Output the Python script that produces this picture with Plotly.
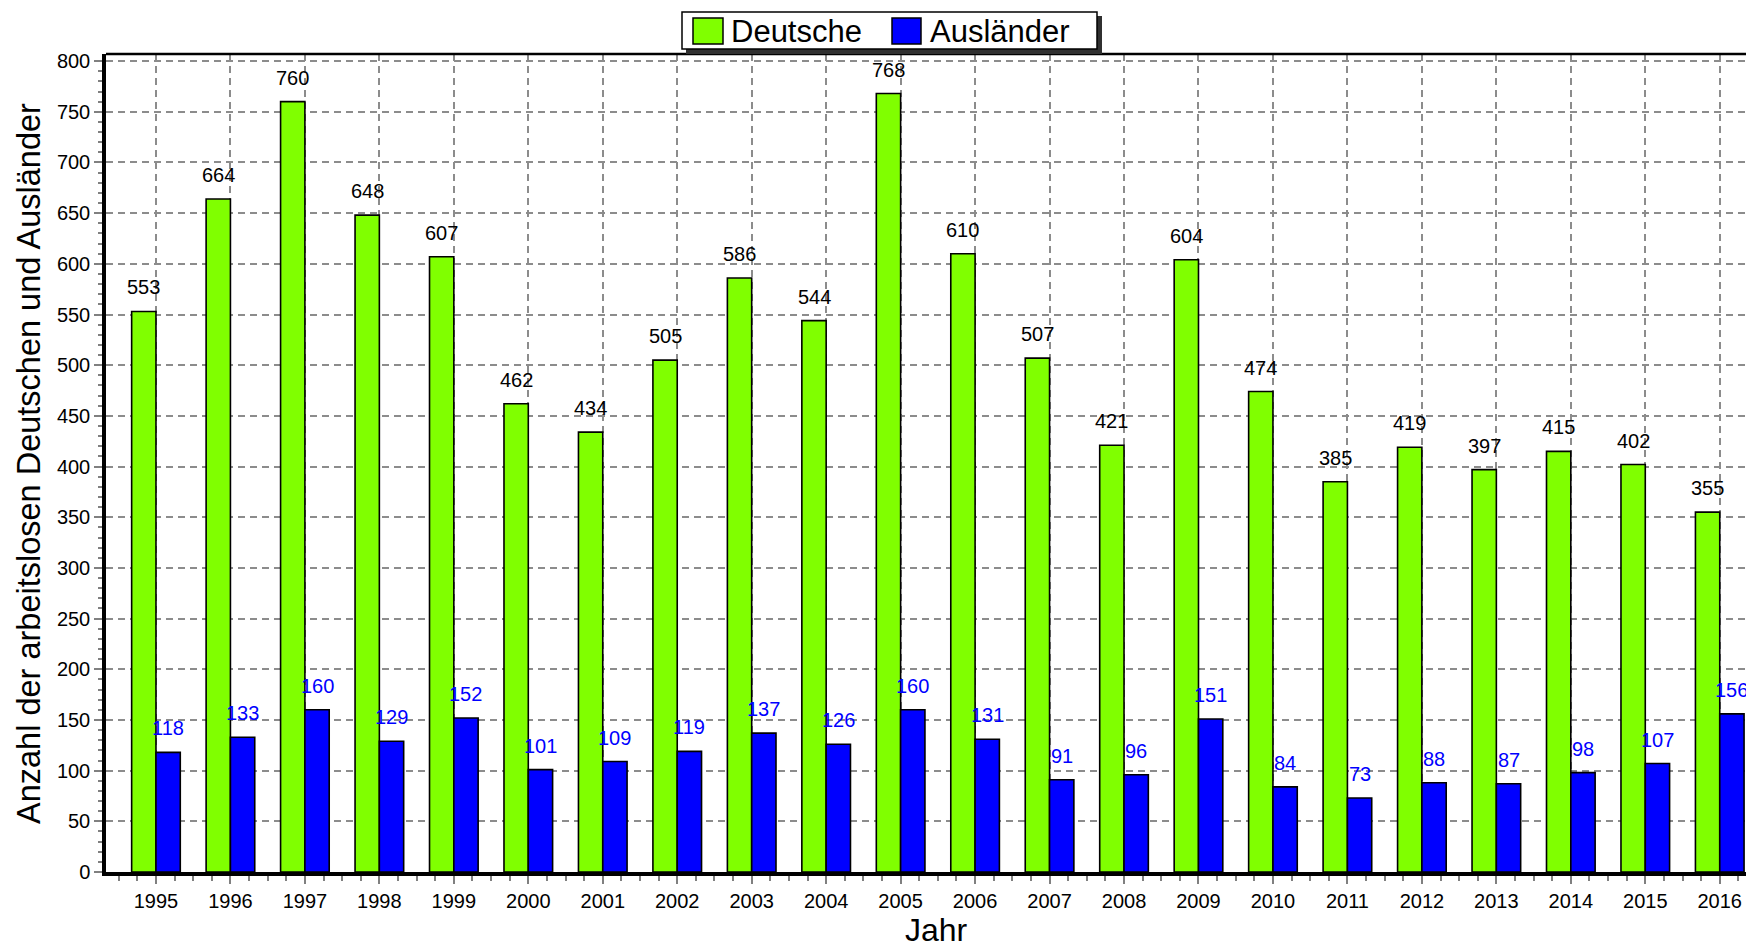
import plotly.graph_objects as go

years = list(range(1995, 2017))
deutsche = [553, 664, 760, 648, 607, 462, 434, 505, 586, 544, 768, 610, 507, 421, 604, 474, 385, 419, 397, 415, 402, 355]
auslaender = [118, 133, 160, 129, 152, 101, 109, 119, 137, 126, 160, 131, 91, 96, 151, 84, 73, 88, 87, 98, 107, 156]
series_names = ["Deutsche", "Ausländer"]
colors = ["#80FF00", "#0000FF"]
x_title = "Jahr"
y_title = "Anzahl der arbeitslosen Deutschen und Ausländer"

# page is offset by the default 8px body margin
OFF = 8
W, H = 1754 - OFF, 947 - OFF
PLOT_L, PLOT_T, PLOT_B = 106, 54, 872          # page coordinates of plot area
L, R, T, B = PLOT_L - OFF, 0, PLOT_T - OFF, 947 - PLOT_B
PW, PH = W - L - R, H - T - B

def px(x):
    return (x - OFF - L) / PW

def py(y):
    return (H - B - (y - OFF)) / PH

FONT = "Liberation Sans, Arial, sans-serif"
bargap = 0.347
half = (1 - bargap) / 4.0

fig = go.Figure()
for name, vals, col in zip(series_names, [deutsche, auslaender], colors):
    fig.add_trace(go.Bar(
        x=years, y=vals, name=name,
        marker=dict(color=col, line=dict(color="black", width=1.6)),
        showlegend=False,
    ))

annotations = []
for yr, d, a in zip(years, deutsche, auslaender):
    annotations.append(dict(x=yr - half, y=d, xref="x", yref="y", text=str(d), showarrow=False,
                            yshift=24, yanchor="middle", font=dict(family=FONT, size=20, color="black")))
    annotations.append(dict(x=yr + half, y=a, xref="x", yref="y", text=str(a), showarrow=False,
                            yshift=24, yanchor="middle", font=dict(family=FONT, size=20, color="#0000FF")))

# axis titles
annotations.append(dict(x=px(936), y=py(930), xref="paper", yref="paper", text=x_title, showarrow=False,
                        xanchor="center", yanchor="middle", font=dict(family=FONT, size=32, color="black")))
annotations.append(dict(x=px(29), y=py(464), xref="paper", yref="paper", text=y_title, showarrow=False,
                        textangle=-90, xanchor="center", yanchor="middle",
                        font=dict(family=FONT, size=32.5, color="black")))

# legend text
annotations.append(dict(x=px(729), y=py(31), xref="paper", yref="paper", text=series_names[0], showarrow=False,
                        xanchor="left", yanchor="middle", font=dict(family=FONT, size=31, color="black")))
annotations.append(dict(x=px(928), y=py(31), xref="paper", yref="paper", text=series_names[1], showarrow=False,
                        xanchor="left", yanchor="middle", font=dict(family=FONT, size=31, color="black")))

shapes = [
    # top border
    dict(type="line", xref="paper", yref="paper", x0=0, x1=1, y0=1, y1=1, line=dict(color="black", width=2.5)),
    # legend shadow
    dict(type="rect", xref="paper", yref="paper", x0=px(686), x1=px(1102), y0=py(16), y1=py(54),
         fillcolor="#303030", line=dict(width=0)),
    # legend box
    dict(type="rect", xref="paper", yref="paper", x0=px(682), x1=px(1097), y0=py(12), y1=py(49),
         fillcolor="white", line=dict(color="black", width=1.5)),
    dict(type="rect", xref="paper", yref="paper", x0=px(693), x1=px(723), y0=py(18), y1=py(44),
         fillcolor=colors[0], line=dict(color="black", width=1.5)),
    dict(type="rect", xref="paper", yref="paper", x0=px(892), x1=px(921), y0=py(18), y1=py(44),
         fillcolor=colors[1], line=dict(color="black", width=1.5)),
]

fig.update_layout(
    width=W, height=H,
    margin=dict(l=L, r=R, t=T, b=B, pad=0),
    paper_bgcolor="white", plot_bgcolor="white",
    barmode="group", bargap=bargap, bargroupgap=0,
    font=dict(family=FONT, size=20, color="black"),
    annotations=annotations, shapes=shapes,
    showlegend=False,
)

# x range so that the plot area's right edge (page x=1754) sits at index 21.46
fig.update_xaxes(
    range=[1994.329, 2016.46], tickmode="array", tickvals=years, ticktext=[str(y) for y in years],
    showline=True, linecolor="black", linewidth=3.5,
    ticks="outside", ticklen=8, tickwidth=1.5, tickcolor="#808080",
    showgrid=True, gridcolor="#8c8c8c", gridwidth=1.5, griddash="7px,5px",
    minor=dict(dtick=0.25, tick0=1995, ticks="outside", ticklen=5, tickwidth=1.5, tickcolor="#808080", showgrid=False),
    tickfont=dict(family=FONT, size=20, color="black"),
    zeroline=False, fixedrange=True,
)
fig.update_yaxes(
    range=[0, 807], tickmode="linear", tick0=0, dtick=50,
    showline=True, linecolor="black", linewidth=3.5,
    ticks="outside", ticklen=8, tickwidth=1.5, tickcolor="#808080",
    showgrid=True, gridcolor="#8c8c8c", gridwidth=1.5, griddash="7px,5px",
    minor=dict(dtick=10, ticks="outside", ticklen=4, tickwidth=1.5, tickcolor="#808080", showgrid=False),
    tickfont=dict(family=FONT, size=20, color="black"),
    zeroline=False, fixedrange=True,
)

fig.write_html("out.html")
